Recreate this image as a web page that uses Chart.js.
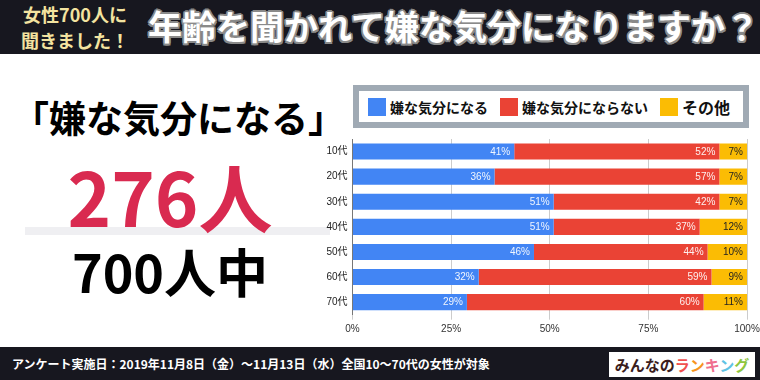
<!DOCTYPE html>
<html><head><meta charset="utf-8">
<script src="https://cdn.jsdelivr.net/npm/chart.js@4.4.0/dist/chart.umd.min.js"></script>
<style>
html,body{margin:0;padding:0;}
body{width:760px;height:380px;position:relative;overflow:hidden;background:#fff;font-family:"Noto Sans CJK JP","Noto Sans",sans-serif;}
.abs{position:absolute;white-space:nowrap;}
#header{left:0;top:0;width:760px;height:54px;background:#17171f;}
#sub{left:0;width:150px;top:1px;text-align:center;color:#f3e3a0;font-weight:bold;font-size:18px;line-height:26px;}
#title{left:148px;top:9px;color:#fff;font-weight:bold;font-size:34px;line-height:34px;
 text-shadow:-1.5px -1.5px 0 #8a8a8a,1.5px -1.5px 0 #8a8a8a,-1.5px 1.5px 0 #8a8a8a,1.5px 1.5px 0 #8a8a8a,0 1.8px 0 #8a8a8a,0 -1.8px 0 #8a8a8a,1.8px 0 0 #8a8a8a,-1.8px 0 0 #8a8a8a;}
#q{left:12px;top:99px;font-weight:bold;font-size:37px;line-height:37px;color:#000;}
#num{left:0;width:340px;text-align:center;top:158px;font-weight:bold;font-size:74px;line-height:74px;color:#d92a50;}
#line{left:25px;top:227px;width:305px;height:8px;background:#efeff2;}
#of{left:0;width:340px;text-align:center;top:245px;font-weight:bold;font-size:52px;line-height:52px;color:#000;}
#legend{left:353px;top:85px;width:384px;height:31px;border:6px solid #a0aab4;background:#fff;z-index:5;}
.li{position:absolute;top:0;height:31px;display:flex;align-items:center;color:#111;font-weight:bold;}
.sw{width:18px;height:18px;margin-right:4px;}
#chartbox{left:300px;top:128px;width:460px;height:220px;}
#footer{left:0;top:347px;width:760px;height:33px;background:#17171f;}
#ftext{left:12px;top:0;line-height:33px;font-size:12px;font-weight:bold;color:#fff;}
#logo{left:609px;top:5px;width:146px;height:25px;background:#fff;text-align:center;line-height:25px;font-size:15px;font-weight:bold;color:#3b1d1d;}
</style></head>
<body>
<div id="header" class="abs">
  <div id="sub" class="abs">女性700人に<br>聞きました！</div>
  <div id="title" class="abs">年齢を聞かれて嫌な気分になりますか？</div>
</div>
<div id="q" class="abs">「嫌な気分になる」</div>
<div id="line" class="abs"></div>
<div id="num" class="abs">276人</div>
<div id="of" class="abs">700人中</div>
<div id="legend" class="abs"></div>
<div id="chartbox" class="abs"><canvas id="c" width="460" height="220"></canvas></div>
<div id="footer" class="abs">
  <div id="ftext" class="abs">アンケート実施日：2019年11月8日（金）～11月13日（水）全国10～70代の女性が対象</div>
  <div id="logo" class="abs">みんなの<span style="color:#f0514f">ラ</span><span style="color:#f7941d">ン</span><span style="color:#ef6f8f">キ</span><span style="color:#5fc3e4">ン</span><span style="color:#8dc63f">グ</span></div>
</div>
<script>
const categories = ["10代","20代","30代","40代","50代","60代","70代"];
const seriesNames = ["嫌な気分になる","嫌な気分にならない","その他"];
const yesValues   = [41,36,51,51,46,32,29];
const noValues    = [52,57,42,37,44,59,60];
const otherValues = [7,7,7,12,10,9,11];
const xTicks = [0,25,50,75,100];
const colors = ["#4285f4","#ea4335","#fbbc04"];
const labelColors = ["rgba(255,255,255,0.92)","rgba(255,255,255,0.92)","#222"];

// HTML legend
const legendLeft = [9, 141, 301];
const legendSize = [14, 14, 16];
const lg = document.getElementById('legend');
seriesNames.forEach((n,i)=>{
  const d=document.createElement('div');d.className='li';
  d.style.left=legendLeft[i]+'px';d.style.fontSize=legendSize[i]+'px';
  const s=document.createElement('div');s.className='sw';s.style.background=colors[i];
  d.appendChild(s);d.appendChild(document.createTextNode(n));lg.appendChild(d);
});

const barLabels = {
  id:'barLabels',
  afterDatasetsDraw(chart){
    const ctx=chart.ctx;
    chart.data.datasets.forEach((ds,i)=>{
      const meta=chart.getDatasetMeta(i);
      meta.data.forEach((bar,j)=>{
        ctx.save();
        ctx.font='10px "Liberation Sans", Arial, sans-serif';
        ctx.fillStyle=labelColors[i];
        ctx.textAlign='right';ctx.textBaseline='middle';
        ctx.fillText(ds.data[j]+'%', bar.x-4, bar.y+0.5);
        ctx.restore();
      });
    });
  }
};

new Chart(document.getElementById('c'),{
  type:'bar',
  data:{labels:categories,datasets:[
    {label:seriesNames[0],data:yesValues,backgroundColor:colors[0]},
    {label:seriesNames[1],data:noValues,backgroundColor:colors[1]},
    {label:seriesNames[2],data:otherValues,backgroundColor:colors[2]}
  ].map(d=>Object.assign(d,{categoryPercentage:1,barPercentage:0.64,borderWidth:0}))},
  options:{
    indexAxis:'y',responsive:false,animation:false,
    layout:{padding:{left:0,right:13,top:9.3,bottom:8.3}},
    plugins:{legend:{display:false},tooltip:{enabled:false}},
    scales:{
      x:{stacked:true,min:0,max:100,
        afterBuildTicks:(s)=>{s.ticks=xTicks.map(v=>({value:v}));},
        afterFit:(s)=>{s.height=25;s.paddingRight=0;s.paddingLeft=0;},
        grid:{color:'#cccccc',drawTicks:true,tickLength:5,tickColor:'#cccccc'},
        border:{display:false},
        ticks:{padding:4,color:'#333',font:{size:10,family:'"Liberation Sans", Arial, sans-serif'},callback:v=>v+'%',maxRotation:0}
      },
      y:{stacked:true,
        afterFit:(s)=>{s.width=52.5;},
        grid:{display:false,drawTicks:false},
        border:{display:true,color:'#777',width:1},
        ticks:{padding:5,color:'#222',font:{size:10,family:'"Liberation Sans","Noto Sans CJK JP", sans-serif'}}
      }
    }
  },
  plugins:[barLabels]
});
</script>
</body></html>
